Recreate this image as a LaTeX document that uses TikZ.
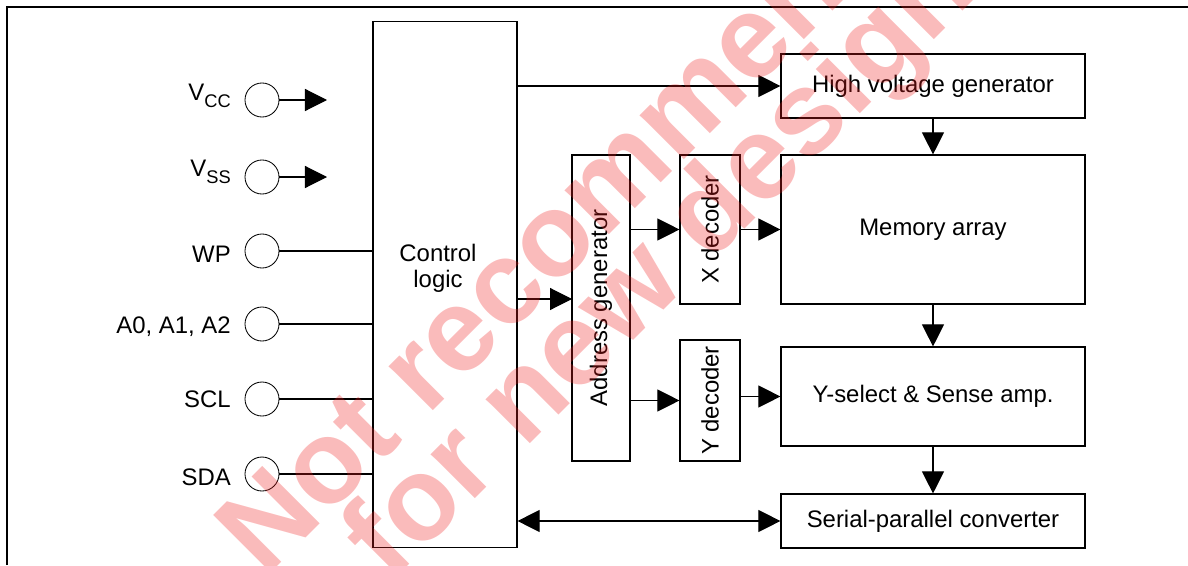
\documentclass[tikz,border=0pt]{standalone}
\usepackage{fontspec}
\setmainfont{Liberation Sans}
\usepackage{xcolor}
\usepackage{tikz}
\usetikzlibrary{arrows.meta}
\definecolor{stampred}{RGB}{240,30,30}

\begin{document}
\begin{tikzpicture}[x=0.025cm, y=-0.025cm, >={Triangle[length=0.55cm, width=0.55cm]}]
\tikzstyle{block}=[draw, line width=0.8pt, inner sep=0pt, font=\fontsize{17}{20}\selectfont]
\tikzstyle{pin}=[circle, draw, line width=0.6pt, minimum size=0.85cm, inner sep=0pt]
\tikzstyle{pinlabel}=[anchor=base east, inner sep=0pt, font=\fontsize{17}{20}\selectfont]
\tikzstyle{wire}=[line width=0.8pt]
\tikzstyle{stamp}=[anchor=base west, rotate=45, inner sep=0pt, text=stampred, text opacity=0.3, font=\fontsize{84}{84}\selectfont\bfseries]
\useasboundingbox (0,0) rectangle (1188,565);
\draw[line width=1.4pt] (7,565) -- (7,7) -- (1188,7);

% pins
\node[pin] (vcc) at (262,100) {};
\node[pin] (vss) at (262,177) {};
\node[pin] (wp) at (262,251) {};
\node[pin] (adr) at (262,324) {};
\node[pin] (scl) at (262,399) {};
\node[pin] (sda) at (262,474) {};
\node[pinlabel] (vccl) at (231,100) {V\raisebox{-5pt}{\fontsize{13}{15}\selectfont CC}};
\node[pinlabel] (vssl) at (231,176) {V\raisebox{-5pt}{\fontsize{13}{15}\selectfont SS}};
\node[pinlabel] (wpl) at (231,262) {WP};
\node[pinlabel] (adrl) at (231,333) {A0, A1, A2};
\node[pinlabel] (scll) at (231,407) {SCL};
\node[pinlabel] (sdal) at (231,485) {SDA};
\coordinate (vcct) at (327,100);
\coordinate (vsst) at (327,177);

% blocks
\node[block, minimum width=3.6cm, minimum height=13.125cm] (ctrl) at (445,284.5) {};
\node[align=center, inner sep=0pt, font=\fontsize{17}{18.5}\selectfont] (ctrltxt) at (438,268) {Control\\logic};
\node[block, minimum width=7.65cm, minimum height=1.45cm, rotate=90] (addr) at (601,308) {Address generator};
\node[block, minimum width=3.725cm, minimum height=1.5cm, rotate=90] (xdec) at (710,229.5) {X decoder};
\node[block, minimum width=3.025cm, minimum height=1.5cm, rotate=90] (ydec) at (710,400.5) {Y decoder};
\node[block, minimum width=7.6cm, minimum height=1.6cm] (hvg) at (933,86) {High voltage generator};
\node[block, minimum width=7.6cm, minimum height=3.725cm] (mem) at (933,229.5) {Memory array};
\node[block, minimum width=7.6cm, minimum height=2.475cm] (ysel) at (933,396.5) {Y-select \& Sense amp.};
\node[block, minimum width=7.6cm, minimum height=1.35cm] (spc) at (933,521) {Serial-parallel converter};
\coordinate (ain) at (572,299);

% connections
\draw[wire, ->] (vcc) -- (vcct);
\draw[wire, ->] (vss) -- (vsst);
\draw[wire] (wp) -- (wp -| ctrl.west);
\draw[wire] (adr) -- (adr -| ctrl.west);
\draw[wire] (scl) -- (scl -| ctrl.west);
\draw[wire] (sda) -- (sda -| ctrl.west);
\draw[wire, ->] (ctrl.east |- hvg.west) -- (hvg.west);
\draw[wire, ->] (ain -| ctrl.east) -- (ain);
\draw[wire, ->] (addr.south |- xdec.north) -- (xdec.north);
\draw[wire, ->] (xdec.south) -- (mem.west);
\draw[wire, ->] (addr.south |- ydec.north) -- (ydec.north);
\draw[wire, ->] (ydec.south |- ysel.west) -- (ysel.west);
\draw[wire, ->] (hvg.south) -- (mem.north);
\draw[wire, ->] (mem.south) -- (ysel.north);
\draw[wire, ->] (ysel.south) -- (spc.north);
\draw[wire, <->] (ctrl.east |- spc.west) -- (spc.west);

% watermark
\node[stamp] (stamp1) at (265,579) {Not recommended};
\node[stamp] (stamp2) at (390,584) {for new design};
\end{tikzpicture}
\end{document}
